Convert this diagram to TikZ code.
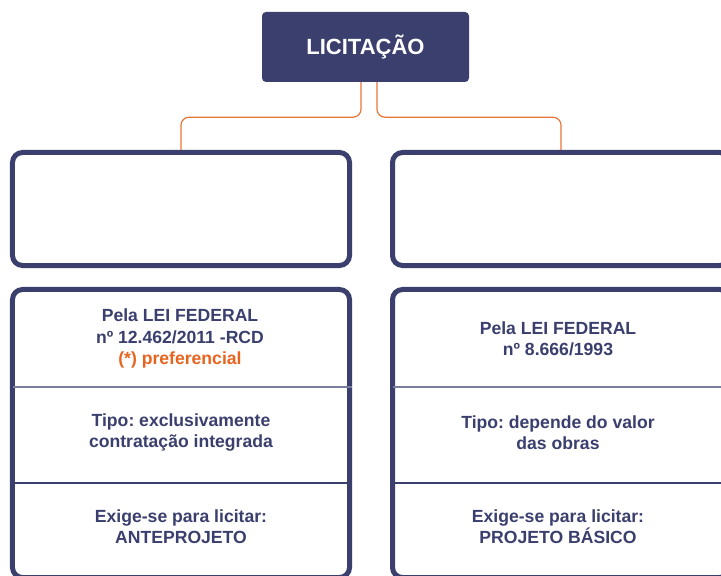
\documentclass[tikz,border=0pt]{standalone}
\usepackage{fontspec}
\setmainfont{Liberation Sans}
\frenchspacing
\definecolor{navy}{HTML}{3A3F6E}
\definecolor{divl}{HTML}{7A7E9E}
\definecolor{orangeln}{HTML}{E8763A}
\definecolor{orangetx}{HTML}{E8641E}
\begin{document}
\begin{tikzpicture}[x=1bp,y=-1bp,
  topbox/.style={rectangle,fill=navy,rounded corners=4bp,minimum width=207bp,minimum height=70bp,
    text=white,font=\fontsize{22bp}{26bp}\selectfont\bfseries,inner sep=0pt},
  panel/.style={rectangle,draw=navy,line width=5bp,rounded corners=10bp,minimum width=337bp,inner sep=0pt},
  conn/.style={draw=orangeln,line width=1.2bp,rounded corners=8bp},
  label/.style={align=center,text=navy,font=\fontsize{17.6bp}{21.5bp}\selectfont\bfseries,inner sep=0pt},
  divA/.style={draw=divl,line width=1.5bp},
  divB/.style={draw=navy,line width=1.2bp}]
\clip (0,0) rectangle (721,576);
\fill[white] (0,0) rectangle (721,576);

\node[topbox] (lic) at (365.5,47) {LICITAÇÃO};

\node[panel,minimum height=113bp] (ul) at (181,209) {};
\node[panel,minimum height=113bp] (ur) at (561,209) {};

\node[panel,minimum height=288bp] (ll) at (181,433.5) {};
\node[panel,minimum height=288bp] (lr) at (561,433.5) {};

\draw[conn] ([xshift=-4.5bp]lic.south) -- ++(0,35) -| (ul.north);
\draw[conn] ([xshift=11.5bp]lic.south) -- ++(0,35) -| (ur.north);

% dividers
\coordinate (l1) at (12.5,387); \coordinate (l2) at (12.5,483);
\draw[divA] (l1) -- (l1 -| ll.east);
\draw[divB] (l2) -- (l2 -| ll.east);
\coordinate (r1) at (392.5,387); \coordinate (r2) at (392.5,483);
\draw[divA] (r1) -- (r1 -| lr.east);
\draw[divB] (r2) -- (r2 -| lr.east);

\node[label] (la) at (180,338.5) {Pela LEI FEDERAL\\nº 12.462/2011 -RCD\\\textcolor{orangetx}{(*) preferencial}};
\node[label] (lb) at (181,432.5) {Tipo: exclusivamente\\contratação integrada};
\node[label] (lc) at (181,526.5) {Exige-se para licitar:\\ANTEPROJETO};

\node[label] (ra) at (558,339) {Pela LEI FEDERAL\\nº 8.666/1993};
\node[label] (rb) at (558,432.5) {Tipo: depende do valor\\das obras};
\node[label] (rc) at (558,526.5) {Exige-se para licitar:\\PROJETO BÁSICO};
\end{tikzpicture}
\end{document}
